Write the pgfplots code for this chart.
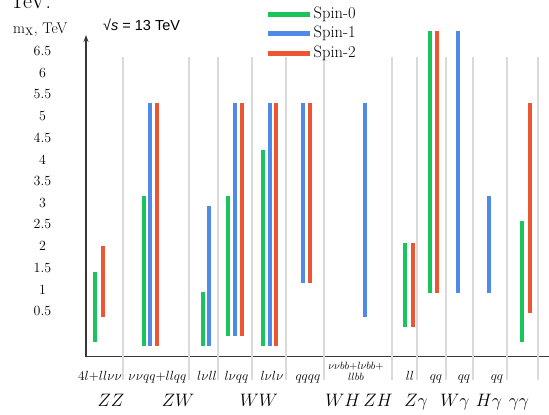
\RequirePackage{fix-cm}
\documentclass[border=0pt]{standalone}
\usepackage{fontspec}
\usepackage{pgfplots}
\pgfplotsset{compat=1.18}
\usetikzlibrary{arrows.meta}
\newfontfamily\arialf{Liberation Sans}

\definecolor{spinzero}{RGB}{25,196,92}
\definecolor{spinone}{RGB}{79,138,232}
\definecolor{spintwo}{RGB}{236,86,52}
\definecolor{sepgray}{RGB}{218,218,218}
\definecolor{axgray}{RGB}{55,55,55}

\begin{document}
\begin{tikzpicture}
\useasboundingbox (0,0) rectangle (549pt,-415pt);

% bits of text outside the axis
\node[anchor=base west, inner sep=0pt, font=\fontsize{22}{24}\selectfont] at (10pt,-8.3pt) {TeV.};
\node[anchor=base west, inner sep=0pt, font=\fontsize{15.5}{17}\selectfont] at (13pt,-33pt) {m$_\mathrm{X}$, TeV};
\node[anchor=base west, inner sep=0pt, font=\fontsize{14.5}{16}\selectfont\arialf] at (103pt,-30.5pt) {√\textit{s} = 13 TeV};

\begin{axis}[
    at={(86pt,-356.7pt)}, anchor=south west,
    x=1pt, y=43.33pt,
    xmin=86, xmax=549,
    ymin=-0.554, ymax=6.871,
    enlargelimits=false,
    clip=false,
    unbounded coords=jump,
    axis x line=bottom,
    axis y line=left,
    x axis line style={-, axgray, line width=1.3pt},
    y axis line style={-{Stealth[length=7pt,width=5pt]}, axgray, line width=1.3pt},
    major tick length=0pt,
    ytick={0.5,1,1.5,2,2.5,3,3.5,4,4.5,5,5.5,6,6.5},
    yticklabels={0.5,1,1.5,2,2.5,3,3.5,4,4.5,5,5.5,6,6.5},
    yticklabel style={anchor=center, xshift=-43.5pt, font=\fontsize{14}{16}\selectfont},
    xtick={100,157.5,207,236.5,272,308,356,410,436,464,497},
    xticklabels={$4l{+}ll\nu\nu$, $\nu\nu qq{+}llqq$, $l\nu ll$, $l\nu qq$, $l\nu l\nu$, $qqqq$,
        {\fontsize{10.5}{11}\selectfont\shortstack{$\nu\nu bb{+}l\nu bb{+}$\\$llbb$}},
        $ll$, $qq$, $qq$, $qq$},
    xticklabel style={anchor=base, yshift=-24pt, inner sep=0pt, font=\fontsize{13.3}{15}\selectfont},
    extra x ticks={111,178,259,359,416,455,489,519},
    extra x tick labels={$ZZ$, $ZW$, $WW$, $WH\,ZH$, $Z\gamma$, $W\gamma$, $H\gamma$, $\gamma\gamma$},
    extra x tick style={xticklabel style={yshift=-25.3pt, font=\fontsize{18}{20}\selectfont}},
    legend style={at={(axis description cs:0.3866,1.0917)}, anchor=north west,
        draw=none, fill=none, inner sep=0pt, row sep=2.5pt, column sep=1pt,
        font=\fontsize{16.5}{18}\selectfont,
        nodes={inner sep=0.5pt, text height=12pt, text depth=4pt}},
    legend cell align=left,
    legend image code/.code={\draw[line width=5pt] (0pt,0pt) -- (42pt,0pt);},
]

% light separators between the channels
\pgfplotsinvokeforeach{123,189,218,252,286,324,392,417,446,473,507,538}{
    \draw[sepgray, line width=1.5pt] (axis cs:#1,6.363) -- (axis cs:#1,-1.092);
}

% Spin-0
\addplot[spinzero, line width=4.5pt] coordinates {
    (95,-0.21) (95,1.41) (95,nan)
    (144,-0.31) (144,3.16) (144,nan)
    (203,-0.31) (203,0.94) (203,nan)
    (228,-0.08) (228,3.16) (228,nan)
    (263,-0.31) (263,4.22) (263,nan)
    (405,0.13) (405,2.07) (405,nan)
    (430,0.92) (430,6.96) (430,nan)
    (522,-0.21) (522,2.58)
};
% Spin-1
\addplot[spinone, line width=4.5pt] coordinates {
    (150,-0.31) (150,5.30) (150,nan)
    (209,-0.31) (209,2.92) (209,nan)
    (235,-0.08) (235,5.30) (235,nan)
    (270,-0.31) (270,5.30) (270,nan)
    (303,1.15) (303,5.30) (303,nan)
    (365,0.36) (365,5.30) (365,nan)
    (458,0.92) (458,6.96) (458,nan)
    (489,0.92) (489,3.16)
};
% Spin-2
\addplot[spintwo, line width=4.5pt] coordinates {
    (103,0.36) (103,2.00) (103,nan)
    (157,-0.31) (157,5.30) (157,nan)
    (242,-0.08) (242,5.30) (242,nan)
    (276,-0.31) (276,5.30) (276,nan)
    (310,1.15) (310,5.30) (310,nan)
    (413,0.13) (413,2.07) (413,nan)
    (437,0.92) (437,6.96) (437,nan)
    (530,0.45) (530,5.30)
};

\legend{Spin-0, Spin-1, Spin-2}
\end{axis}
\end{tikzpicture}
\end{document}
